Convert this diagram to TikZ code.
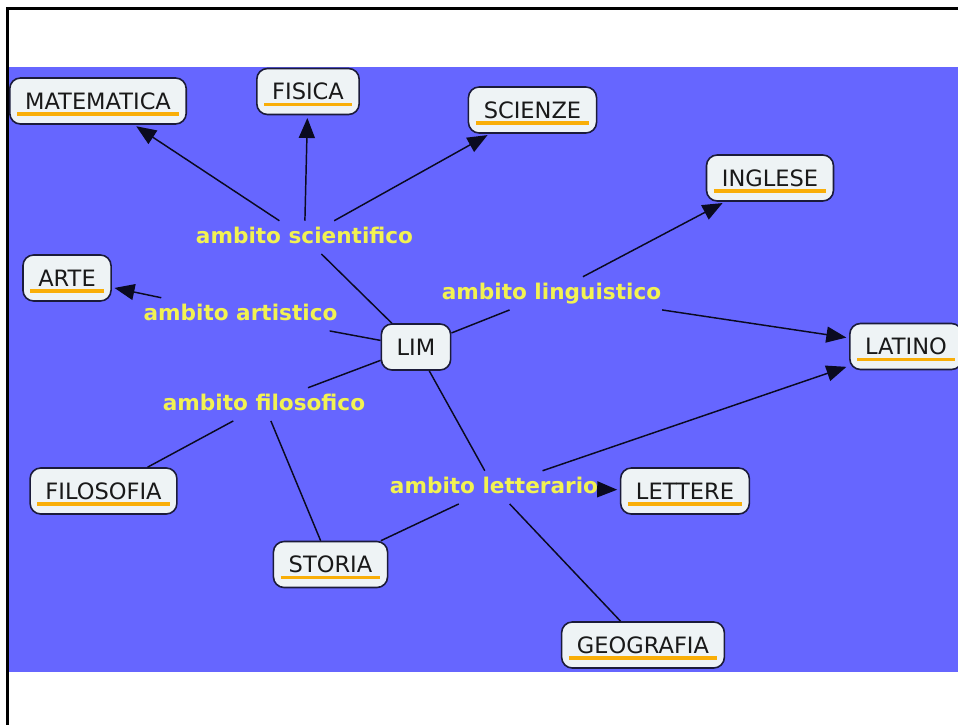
\documentclass[tikz,border=0pt]{standalone}
\usepackage{fontspec}
\setmainfont{DejaVu Sans}
\usetikzlibrary{arrows.meta}
\definecolor{bgblue}{HTML}{6666FF}
\definecolor{boxfill}{HTML}{EEF3F5}
\definecolor{boxline}{HTML}{1B1B3A}
\definecolor{linky}{HTML}{F2F252}
\definecolor{ulc}{HTML}{F9AE08}
\definecolor{linec}{HTML}{0A0A20}
\newcommand\ulx[1]{\setbox0=\hbox{#1}\leavevmode\rlap{\hspace{-6pt}\smash{\raisebox{-5pt}{\color{ulc}\rule{\dimexpr\wd0+12pt\relax}{2.6pt}}}}\box0}
\tikzset{
  concept/.style={draw=boxline, line width=1.2pt, rounded corners=8pt, fill=boxfill,
    minimum height=34.5pt, inner xsep=11.5pt, inner ysep=0pt, text height=12.4pt, text depth=0pt,
    font=\fontsize{16.9}{19}\selectfont, text=black!90},
  linkph/.style={text=linky, font=\bfseries\fontsize{16.2}{19}\selectfont, inner xsep=2pt,
    inner ysep=4.5pt, text height=12pt, text depth=3.5pt, anchor=base},
  conn/.style={line width=1.1pt, draw=linec},
  arr/.style={conn, -{Triangle[length=15pt,width=12pt]}, shorten >=2pt}
}
\begin{document}
\begin{tikzpicture}[x=0.75pt,y=-0.75pt]
\useasboundingbox (0,0) rectangle (958,725);
\fill[bgblue] (9,67) rectangle (958,672);
\draw[line width=2.4pt, black] (6,8.5) -- (958,8.5);
\draw[line width=2.4pt, black] (7.5,7.3) -- (7.5,725);

% concepts
\node[concept] (mat) at (98,101) {\ulx{MATEMATICA}};
\node[concept] (fis) at (308,91.5) {\ulx{FISICA}};
\node[concept] (scz) at (532.5,110) {\ulx{SCIENZE}};
\node[concept] (ing) at (770,178) {\ulx{INGLESE}};
\node[concept] (arte) at (67,278) {\ulx{ARTE}};
\node[concept] (lim) at (416,347) {LIM};
\node[concept] (lat) at (906,346.5) {\ulx{LATINO}};
\node[concept] (filo) at (103.5,491) {\ulx{FILOSOFIA}};
\node[concept] (sto) at (330.5,564.5) {\ulx{STORIA}};
\node[concept] (lett) at (685,491) {\ulx{LETTERE}};
\node[concept] (geo) at (643,645) {\ulx{GEOGRAFIA}};

% linking phrases
\node[linkph] (asci) at (304.5,243) {ambito scientifico};
\node[linkph] (aart) at (240.5,320) {ambito artistico};
\node[linkph] (alin) at (551.5,299) {ambito linguistico};
\node[linkph] (afil) at (264,410) {ambito filosofico};
\node[linkph] (alet) at (494,493) {ambito letterario};

% connectors
\draw[conn] (lim) -- (asci);
\draw[arr] (asci) -- (mat);
\draw[arr] (asci) -- (fis);
\draw[arr] (asci) -- (scz);

\draw[conn] (lim) -- (aart);
\draw[arr] (aart) -- (arte);

\draw[conn] (lim) -- (alin);
\draw[arr] (alin) -- (ing);
\draw[arr] (alin) -- (lat);

\draw[conn] (lim) -- (afil);
\draw[conn] (afil) -- (filo);
\draw[conn] (afil) -- (sto);

\draw[conn] (lim) -- (alet);
\draw[arr] (alet) -- (lat);
\draw[arr] (alet) -- (lett);
\draw[conn] (alet) -- (sto);
\draw[conn] (alet) -- (geo);
\end{tikzpicture}
\end{document}
